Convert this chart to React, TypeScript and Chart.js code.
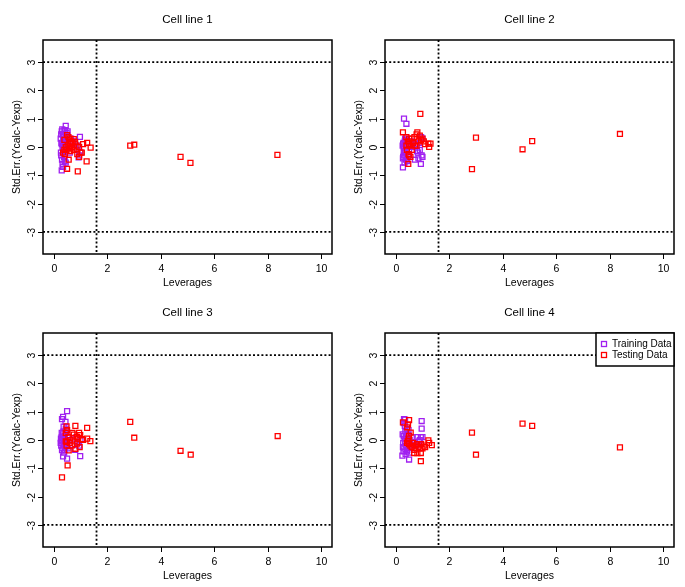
import React, { useEffect, useRef } from "react";
import { Chart, registerables } from "chart.js";

Chart.register(...registerables);

// ---------- labels & reference lines ----------
const panelTitles = ["Cell line 1", "Cell line 2", "Cell line 3", "Cell line 4"];
const xTicks = [0, 2, 4, 6, 8, 10];
const yTicks = [-3, -2, -1, 0, 1, 2, 3];
const xTitle = "Leverages";
const yTitle = "Std.Err.(Ycalc-Yexp)";
const legendLabels = ["Training Data", "Testing Data"];
const leverageLimit = 1.6;
const residualLimit = 3;

// ---------- Cell line 1 ----------
const train1X = [0.26, 0.28, 0.3, 0.32, 0.34, 0.36, 0.38, 0.4, 0.42, 0.45, 0.48, 0.5, 0.27, 0.29, 0.31, 0.33, 0.35, 0.37, 0.39, 0.41, 0.44, 0.47, 0.3, 0.33, 0.36, 0.39, 0.43, 0.46, 0.52, 0.55, 0.6, 0.65, 0.72, 0.8, 0.9, 0.95, 0.98, 1.0, 0.88, 0.93, 0.3, 0.35, 0.4, 0.45, 0.28];
const train1Y = [0.3, -0.3, 0.55, 0.62, 0.45, 0.2, -0.1, 0.1, 0.6, 0.75, 0.5, 0.4, -0.2, 0.15, -0.45, -0.6, 0.05, 0.35, -0.35, -0.5, -0.15, 0.25, -0.83, 0.0, 0.4, -0.25, 0.3, -0.05, 0.55, 0.15, -0.2, 0.3, 0.2, 0.1, 0.05, -0.3, 0.36, -0.2, -0.1, -0.37, 0.1, -0.7, 0.6, -0.55, 0.45];
const test1X = [0.5, 0.55, 0.6, 0.65, 0.45, 0.4, 0.42, 0.35, 0.48, 0.6, 0.75, 0.8, 0.88, 0.95, 1.0, 1.1, 1.25, 1.38, 1.23, 0.9, 0.5, 0.56, 0.7, 0.52, 0.58, 0.68, 0.75, 0.85, 0.95, 1.05, 0.4, 0.62, 0.7, 2.86, 3.01, 4.74, 5.11, 8.36];
const test1Y = [0.42, 0.35, 0.3, 0.2, 0.0, -0.1, -0.25, -0.2, -0.1, 0.1, 0.28, 0.18, -0.25, -0.35, -0.2, 0.1, 0.15, -0.02, -0.51, -0.86, -0.77, -0.45, -0.05, 0.05, -0.05, 0.0, -0.1, 0.05, 0.0, -0.2, 0.25, -0.15, 0.15, 0.05, 0.08, -0.35, -0.56, -0.28];

// ---------- Cell line 2 ----------
const train2X = [0.31, 0.4, 0.27, 0.28, 0.3, 0.26, 0.29, 0.32, 0.34, 0.36, 0.38, 0.4, 0.42, 0.3, 0.27, 0.33, 0.35, 0.37, 0.44, 0.46, 0.5, 0.55, 0.6, 0.65, 0.72, 0.8, 0.83, 0.9, 0.94, 0.97, 1.0, 0.95, 1.0, 0.9, 0.28, 0.31, 0.34, 0.39, 0.43, 0.48, 0.75, 0.85];
const train2Y = [1.0, 0.82, -0.72, -0.35, -0.2, 0.05, 0.15, -0.05, 0.2, -0.3, -0.45, -0.1, 0.1, 0.0, -0.4, -0.55, 0.3, 0.05, -0.25, -0.35, -0.15, 0.1, 0.2, 0.0, -0.45, -0.15, -0.2, -0.1, -0.6, -0.3, -0.35, 0.35, 0.3, 0.15, 0.1, -0.3, -0.15, 0.25, -0.5, 0.05, 0.1, -0.4];
const test2X = [0.92, 0.27, 0.81, 0.5, 0.6, 0.7, 0.78, 0.9, 1.0, 1.05, 1.1, 1.22, 1.3, 1.25, 0.45, 0.4, 0.42, 0.48, 0.5, 0.55, 0.47, 0.55, 0.65, 0.72, 0.78, 0.85, 0.95, 0.4, 0.6, 0.5, 2.85, 3.0, 4.74, 5.1, 8.38];
const test2Y = [1.17, 0.52, 0.52, 0.3, 0.3, 0.35, 0.45, 0.4, 0.3, 0.2, 0.1, 0.12, 0.12, 0.0, 0.2, 0.05, -0.1, -0.25, -0.3, -0.35, -0.6, 0.05, 0.15, 0.05, 0.05, 0.2, 0.25, 0.35, -0.1, 0.1, -0.78, 0.33, -0.08, 0.21, 0.46];

// ---------- Cell line 3 ----------
const train3X = [0.5, 0.35, 0.31, 0.44, 0.37, 0.35, 0.5, 0.99, 0.31, 0.26, 0.27, 0.28, 0.3, 0.32, 0.34, 0.36, 0.38, 0.4, 0.42, 0.44, 0.46, 0.48, 0.5, 0.29, 0.33, 0.37, 0.41, 0.55, 0.6, 0.7, 0.8, 0.9, 0.95, 1.0, 0.85, 0.3, 0.45, 0.28, 0.39, 0.52];
const train3Y = [1.02, 0.82, 0.74, 0.64, 0.47, -0.58, -0.66, -0.57, -0.36, -0.1, 0.05, -0.2, 0.1, -0.05, 0.2, 0.3, -0.15, 0.05, 0.15, -0.25, 0.35, -0.1, 0.0, 0.0, -0.3, 0.1, -0.35, 0.1, -0.2, 0.05, -0.35, -0.1, -0.2, 0.0, 0.1, 0.25, 0.4, -0.05, -0.45, -0.3];
const test3X = [1.25, 0.81, 0.48, 0.5, 0.45, 1.25, 1.37, 0.52, 0.31, 0.75, 0.87, 0.99, 1.06, 0.62, 0.5, 0.69, 0.81, 0.56, 0.87, 0.97, 0.45, 0.55, 0.7, 0.95, 0.9, 0.6, 0.48, 0.78, 1.1, 2.86, 3.01, 4.74, 5.12, 8.37];
const test3Y = [0.43, 0.5, 0.48, 0.35, 0.25, 0.05, -0.04, -0.9, -1.32, 0.19, 0.11, 0.17, 0.03, 0.0, -0.07, -0.19, -0.31, -0.37, -0.13, -0.25, -0.05, 0.1, 0.25, 0.25, 0.05, -0.1, -0.2, -0.05, 0.0, 0.64, 0.08, -0.38, -0.52, 0.14];

// ---------- Cell line 4 ----------
const train4X = [0.31, 0.35, 0.97, 0.97, 0.25, 0.5, 0.94, 0.82, 0.88, 1.0, 0.26, 0.28, 0.3, 0.32, 0.34, 0.36, 0.38, 0.4, 0.42, 0.44, 0.46, 0.48, 0.5, 0.29, 0.33, 0.37, 0.41, 0.45, 0.52, 0.55, 0.6, 0.7, 0.75, 0.85, 0.3, 0.27, 0.35, 0.39, 0.43, 0.9];
const train4Y = [0.74, 0.72, 0.67, 0.4, -0.55, -0.69, 0.1, 0.1, -0.05, 0.1, 0.2, -0.1, 0.15, -0.3, 0.5, 0.3, -0.2, 0.05, -0.4, 0.2, -0.1, 0.35, -0.45, -0.4, 0.05, -0.5, 0.4, -0.25, 0.0, -0.15, 0.1, -0.2, -0.3, -0.15, 0.6, -0.25, -0.05, 0.15, -0.35, 0.0];
const test4X = [0.5, 0.27, 0.46, 0.56, 0.43, 0.5, 0.45, 0.5, 0.42, 0.55, 0.48, 0.6, 0.7, 0.75, 0.8, 0.69, 0.81, 0.94, 0.94, 0.9, 1.0, 1.05, 1.22, 1.25, 1.35, 1.1, 0.65, 0.85, 0.95, 2.85, 3.0, 4.74, 5.1, 8.38];
const test4Y = [0.7, 0.62, 0.55, 0.26, 0.45, 0.15, -0.05, -0.15, -0.1, -0.2, 0.05, -0.25, -0.35, -0.2, -0.15, -0.46, -0.46, -0.46, -0.75, -0.3, -0.3, -0.2, -0.01, -0.1, -0.18, -0.25, -0.1, -0.25, -0.15, 0.26, -0.52, 0.58, 0.5, -0.26];

const panels = [
  { trainX: train1X, trainY: train1Y, testX: test1X, testY: test1Y },
  { trainX: train2X, trainY: train2Y, testX: test2X, testY: test2Y },
  { trainX: train3X, trainY: train3Y, testX: test3X, testY: test3Y },
  { trainX: train4X, trainY: train4Y, testX: test4X, testY: test4Y },
];

const TRAIN_COLOR = "#A020F0";
const TEST_COLOR = "#FF0000";
const FONT = "'Liberation Sans', Arial, Helvetica, sans-serif";

const toPoints = (xs: number[], ys: number[]) => xs.map((x, i) => ({ x, y: ys[i] }));

function drawSquare(ctx: CanvasRenderingContext2D, x: number, y: number, color: string) {
  ctx.save();
  ctx.strokeStyle = color;
  ctx.lineWidth = 1.3;
  ctx.strokeRect(x - 2.5, y - 2.5, 5, 5);
  ctx.restore();
}

const williamsPlugin = {
  id: "williams",
  beforeDatasetsDraw(chart: any) {
    const { ctx, chartArea: a, scales } = chart;
    const xs = scales.x, ys = scales.y;
    ctx.save();
    ctx.beginPath();
    ctx.rect(a.left, a.top, a.right - a.left, a.bottom - a.top);
    ctx.clip();
    ctx.strokeStyle = "#000";
    ctx.lineWidth = 1.8;
    ctx.setLineDash([2, 2.2]);
    const vx = xs.getPixelForValue(leverageLimit);
    ctx.beginPath();
    ctx.moveTo(vx, a.top);
    ctx.lineTo(vx, a.bottom);
    ctx.stroke();
    [residualLimit, -residualLimit].forEach((v) => {
      const py = ys.getPixelForValue(v);
      ctx.beginPath();
      ctx.moveTo(a.left, py);
      ctx.lineTo(a.right, py);
      ctx.stroke();
    });
    ctx.restore();
  },
  afterDraw(chart: any) {
    const { ctx, chartArea: a, scales } = chart;
    const opts = chart.options.plugins.williams || {};
    const xs = scales.x, ys = scales.y;
    ctx.save();
    ctx.fillStyle = "#000";
    ctx.strokeStyle = "#000";
    // box
    ctx.lineWidth = 1.5;
    ctx.strokeRect(a.left, a.top, a.right - a.left, a.bottom - a.top);
    // ticks
    ctx.lineWidth = 1;
    ctx.font = `10.5px ${FONT}`;
    ctx.textAlign = "center";
    ctx.textBaseline = "middle";
    xTicks.forEach((t) => {
      const px = Math.round(xs.getPixelForValue(t)) + 0.5;
      ctx.beginPath();
      ctx.moveTo(px, a.bottom);
      ctx.lineTo(px, a.bottom + 5);
      ctx.stroke();
      ctx.fillText(String(t), px, a.bottom + 15);
    });
    yTicks.forEach((t) => {
      const py = Math.round(ys.getPixelForValue(t)) + 0.5;
      ctx.beginPath();
      ctx.moveTo(a.left, py);
      ctx.lineTo(a.left - 5, py);
      ctx.stroke();
      ctx.save();
      ctx.translate(a.left - 11, py);
      ctx.rotate(-Math.PI / 2);
      ctx.fillText(String(t), 0, 0);
      ctx.restore();
    });
    // axis titles
    const cx = (a.left + a.right) / 2;
    const cy = (a.top + a.bottom) / 2;
    ctx.fillText(xTitle, cx, a.bottom + 29);
    ctx.save();
    ctx.translate(a.left - 26, cy);
    ctx.rotate(-Math.PI / 2);
    ctx.fillText(yTitle, 0, 0);
    ctx.restore();
    // panel title
    ctx.font = `11.5px ${FONT}`;
    ctx.fillText(opts.title || "", cx, a.top - 20);
    // legend
    if (opts.legend) {
      const lx = a.right - 78, ly = a.top, lw = 78, lh = 33;
      ctx.fillStyle = "#fff";
      ctx.fillRect(lx, ly, lw, lh);
      ctx.lineWidth = 1.5;
      ctx.strokeStyle = "#000";
      ctx.strokeRect(lx, ly, lw, lh);
      ctx.font = `10px ${FONT}`;
      ctx.textAlign = "left";
      ctx.fillStyle = "#000";
      const colors = [TRAIN_COLOR, TEST_COLOR];
      legendLabels.forEach((lab, i) => {
        const yy = ly + 11 + i * 11;
        drawSquare(ctx, lx + 8, yy, colors[i]);
        ctx.fillStyle = "#000";
        ctx.fillText(lab, lx + 16, yy);
      });
    }
    ctx.restore();
  },
};

function Panel({ index, left, top }: { index: number; left: number; top: number }) {
  const ref = useRef<HTMLCanvasElement>(null);
  useEffect(() => {
    const p = panels[index];
    const chart = new Chart(ref.current as HTMLCanvasElement, {
      type: "scatter",
      data: {
        datasets: [
          {
            label: legendLabels[0],
            data: toPoints(p.trainX, p.trainY),
            borderColor: TRAIN_COLOR,
            backgroundColor: "transparent",
            pointStyle: "rect",
            pointRadius: 3.5,
            pointBorderWidth: 1.3,
            order: 2,
          },
          {
            label: legendLabels[1],
            data: toPoints(p.testX, p.testY),
            borderColor: TEST_COLOR,
            backgroundColor: "transparent",
            pointStyle: "rect",
            pointRadius: 3.5,
            pointBorderWidth: 1.3,
            order: 1,
          },
        ],
      },
      options: {
        animation: false,
        responsive: false,
        maintainAspectRatio: false,
        events: [],
        layout: { padding: { left: 43, right: 11, top: 40, bottom: 40 } },
        scales: {
          x: { type: "linear", min: -0.4, max: 10.4, display: false },
          y: { type: "linear", min: -3.78, max: 3.78, display: false },
        },
        plugins: {
          legend: { display: false },
          tooltip: { enabled: false },
          title: { display: false },
          williams: { title: panelTitles[index], legend: index === 3 },
        } as any,
      },
      plugins: [williamsPlugin],
    });
    return () => chart.destroy();
  }, [index]);
  return (
    <canvas
      ref={ref}
      width={343}
      height={294}
      style={{ position: "absolute", left, top, width: 343, height: 294 }}
    />
  );
}

export default function App() {
  return (
    <div style={{ position: "absolute", left: 0, top: 0, width: 685, height: 587, background: "#fff" }}>
      <Panel index={0} left={0} top={0} />
      <Panel index={1} left={342} top={0} />
      <Panel index={2} left={0} top={293} />
      <Panel index={3} left={342} top={293} />
    </div>
  );
}
